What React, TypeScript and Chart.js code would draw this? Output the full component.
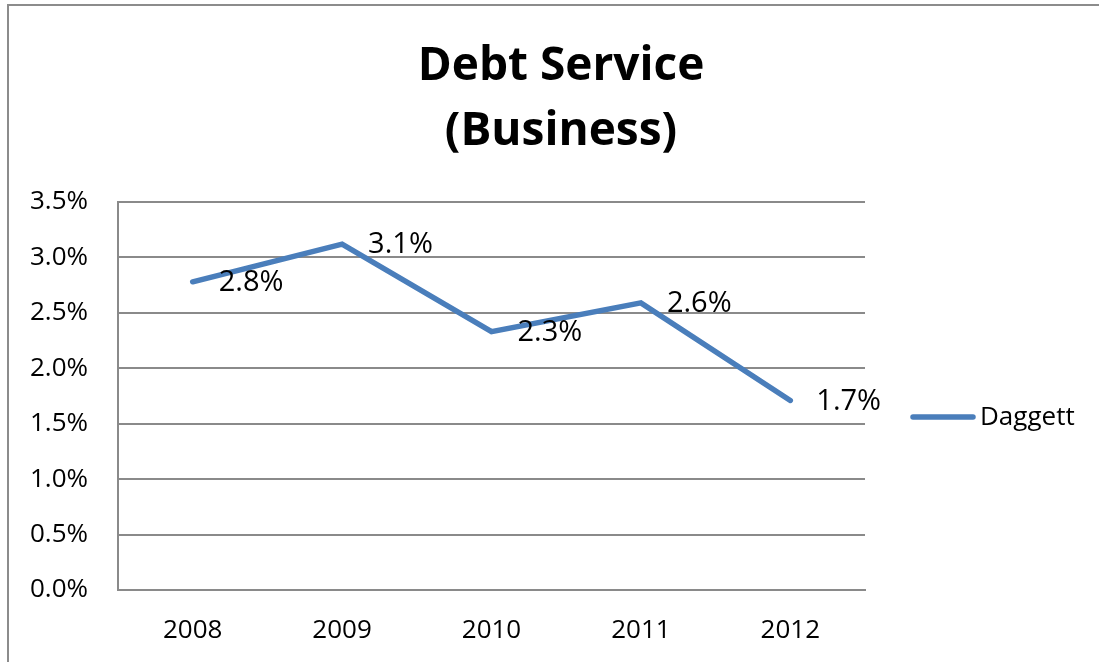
import React, { useEffect, useRef } from "react";
import { Chart, registerables } from "chart.js";

Chart.register(...registerables);

const titleLines = ["Debt Service", "(Business)"];
const categories = ["2008", "2009", "2010", "2011", "2012"];
const seriesName = "Daggett";
const seriesValues = [0.0278, 0.0312, 0.0233, 0.0259, 0.0171];
const dataLabels = ["2.8%", "3.1%", "2.3%", "2.6%", "1.7%"];
const yMin = 0;
const yMax = 0.035;
const yStep = 0.005;

const FONT = "'Open Sans', 'Noto Sans', sans-serif";
const LINE_COLOR = "#4a7ebb";
const GRID_COLOR = "#8a8a8a";

const decorPlugin = {
  id: "decor",
  beforeDraw(chart: any) {
    const ctx = chart.ctx;
    ctx.save();
    ctx.strokeStyle = "#8c8c8c";
    ctx.lineWidth = 2;
    ctx.beginPath();
    ctx.moveTo(8, chart.height);
    ctx.lineTo(8, 5);
    ctx.lineTo(chart.width, 5);
    ctx.stroke();
    ctx.restore();
  },
  afterDraw(chart: any) {
    const ctx = chart.ctx;
    ctx.save();
    // title
    ctx.fillStyle = "#000";
    ctx.font = `bold 46px ${FONT}`;
    ctx.textAlign = "center";
    ctx.textBaseline = "alphabetic";
    ctx.fillText(titleLines[0], 561, 80);
    ctx.fillText(titleLines[1], 561, 145);

    // data labels
    const meta = chart.getDatasetMeta(0);
    ctx.font = `29px ${FONT}`;
    ctx.textAlign = "left";
    ctx.textBaseline = "middle";
    meta.data.forEach((pt: any, i: number) => {
      ctx.fillText(dataLabels[i], pt.x + 26, pt.y + 1);
    });

    // legend
    const ly = 417;
    ctx.strokeStyle = LINE_COLOR;
    ctx.lineWidth = 5.5;
    ctx.lineCap = "round";
    ctx.beginPath();
    ctx.moveTo(913, ly);
    ctx.lineTo(973, ly);
    ctx.stroke();
    ctx.font = `26px ${FONT}`;
    ctx.fillText(chart.data.datasets[0].label, 980, ly + 1);
    ctx.restore();
  },
};

export default function App() {
  const canvasRef = useRef<HTMLCanvasElement | null>(null);

  useEffect(() => {
    if (!canvasRef.current) return;
    const chart = new Chart(canvasRef.current, {
      type: "line",
      data: {
        labels: categories,
        datasets: [
          {
            label: seriesName,
            data: seriesValues,
            borderColor: LINE_COLOR,
            backgroundColor: LINE_COLOR,
            borderWidth: 5.5,
            pointRadius: 0,
            pointHoverRadius: 0,
            borderCapStyle: "round",
            borderJoinStyle: "miter",
            tension: 0,
            fill: false,
          },
        ],
      },
      options: {
        animation: false,
        responsive: true,
        maintainAspectRatio: false,
        devicePixelRatio: 1,
        layout: { padding: { top: 202, right: 234, bottom: 0, left: 0 } },
        plugins: {
          legend: { display: false },
          title: { display: false },
          tooltip: { enabled: false },
        },
        scales: {
          x: {
            offset: true,
            grid: { display: false, drawTicks: false },
            border: { display: true, color: GRID_COLOR, width: 2 },
            ticks: {
              color: "#000",
              font: { family: FONT, size: 26 },
              padding: 25,
              maxRotation: 0,
            },
            afterFit: (s: any) => {
              s.height = 72;
            },
          },
          y: {
            min: yMin,
            max: yMax,
            grid: { color: GRID_COLOR, lineWidth: 2, drawTicks: false },
            border: { display: true, color: GRID_COLOR, width: 2 },
            ticks: {
              stepSize: yStep,
              color: "#000",
              font: { family: FONT, size: 26 },
              padding: 30,
              callback: (v: any) => (Number(v) * 100).toFixed(1) + "%",
            },
            afterFit: (s: any) => {
              s.width = 118;
            },
          },
        },
      },
      plugins: [decorPlugin],
    });
    return () => chart.destroy();
  }, []);

  return (
    <div
      style={{
        position: "absolute",
        left: 0,
        top: 0,
        width: 1099,
        height: 662,
        background: "#fff",
      }}
    >
      <canvas ref={canvasRef} />
    </div>
  );
}
